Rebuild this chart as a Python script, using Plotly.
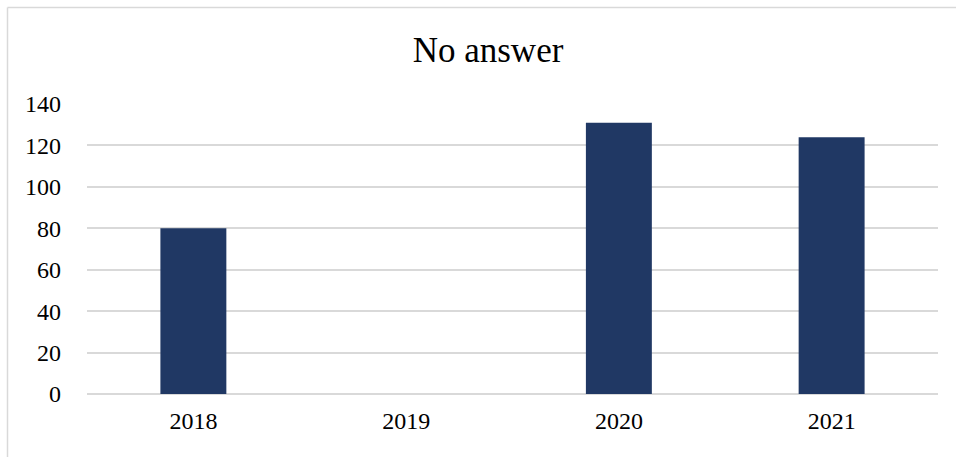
import plotly.graph_objects as go

years = ["2018", "2019", "2020", "2021"]
no_answer = [80, 0, 131, 124]
y_ticks = [0, 20, 40, 60, 80, 100, 120, 140]

W, H = 956, 457
L, R, T, B = 87, 18, 104, 63
pw, ph = W - L - R, H - T - B

def px_x(x):
    return (x - L) / pw

def px_y(y):
    return (H - B - y) / ph

fig = go.Figure(go.Bar(
    x=years, y=no_answer, width=0.31,
    marker=dict(color="#203864", line=dict(width=0)),
))

font_family = "Liberation Serif, Times New Roman, serif"

fig.update_layout(
    width=W, height=H,
    margin=dict(l=L, r=R, t=T, b=B, autoexpand=False),
    paper_bgcolor="white", plot_bgcolor="white",
    showlegend=False,
    title=dict(text="No answer", x=px_x(488), xref="paper", xanchor="center",
               y=1 - 50 / H, yanchor="middle",
               font=dict(family=font_family, size=35, color="#000000")),
    font=dict(family=font_family, size=24, color="#000000"),
    xaxis=dict(type="category", showgrid=False, showline=False, ticks="",
               tickfont=dict(size=24), ticklabelstandoff=10, zeroline=False),
    yaxis=dict(range=[0, 140], tickvals=y_ticks, showgrid=True, gridcolor="#d9d9d9",
               gridwidth=1.5, showline=False, ticks="", zeroline=True,
               zerolinecolor="#d9d9d9", zerolinewidth=1.5,
               tickfont=dict(size=24), ticklabelstandoff=25),
    shapes=[
        dict(type="line", xref="paper", yref="paper",
             x0=px_x(7.5), x1=px_x(W + 20), y0=px_y(7.5), y1=px_y(7.5),
             line=dict(color="#d9d9d9", width=1.5)),
        dict(type="line", xref="paper", yref="paper",
             x0=px_x(7.5), x1=px_x(7.5), y0=px_y(7.5), y1=px_y(H + 20),
             line=dict(color="#d9d9d9", width=1.5)),
    ],
)

fig.write_html("out.html")
